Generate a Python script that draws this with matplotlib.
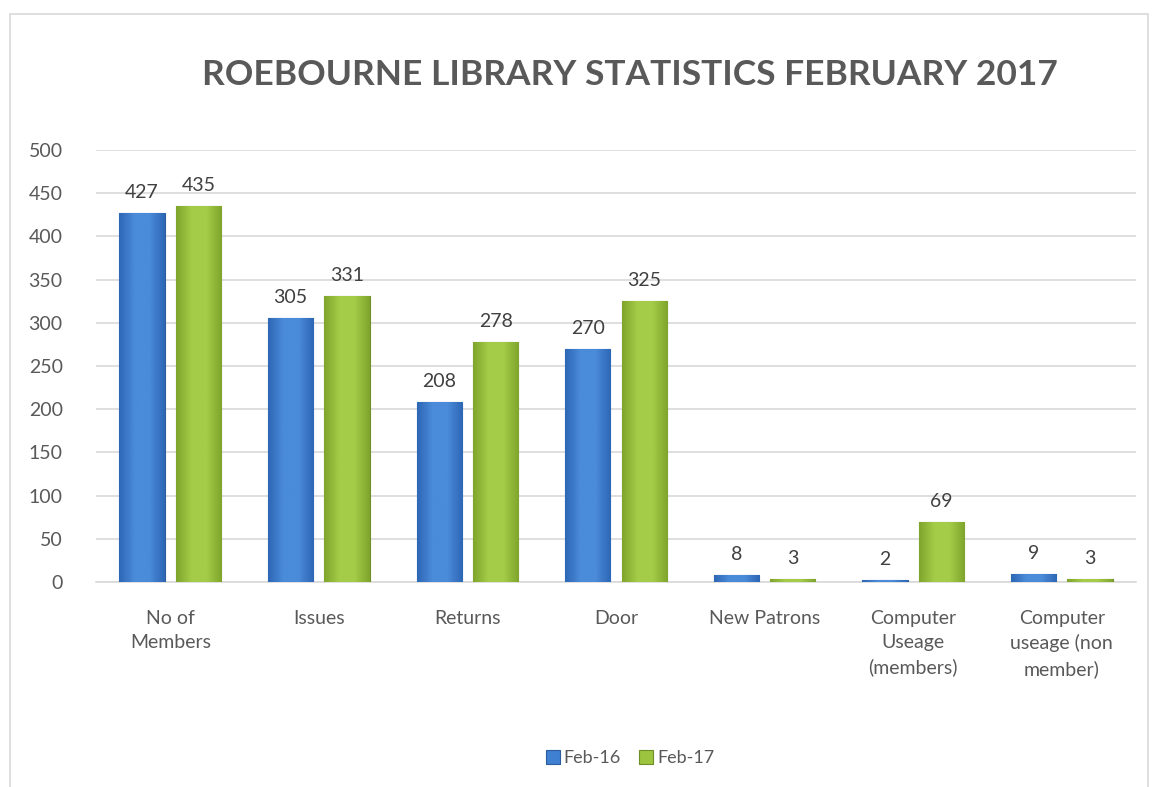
import matplotlib.pyplot as plt
import numpy as np
from matplotlib.colors import LinearSegmentedColormap
from matplotlib.patches import Rectangle

plt.rcParams["font.family"] = ["Lato", "DejaVu Sans"]

categories = [
    "No of\nMembers",
    "Issues",
    "Returns",
    "Door",
    "New Patrons",
    "Computer\nUseage\n(members)",
    "Computer\nuseage (non\nmember)",
]
feb16 = [427, 305, 208, 270, 8, 2, 9]
feb17 = [435, 331, 278, 325, 3, 69, 3]
series_names = ["Feb-16", "Feb-17"]

blue = "#3F80D2"
blue_edge = "#2A5C9E"
green = "#9CC43E"
green_edge = "#6E8F27"
text_grey = "#595959"

blue_cmap = LinearSegmentedColormap.from_list("b", ["#2E67B5", "#4A8BDA", "#4A8BDA", "#2E67B5"])
green_cmap = LinearSegmentedColormap.from_list("g", ["#7FA52C", "#A5CC48", "#A5CC48", "#7FA52C"])

fig = plt.figure(figsize=(11.6, 7.87), dpi=100)
fig.patches.append(
    Rectangle((10 / 1160, -0.05), 1138 / 1160, 1.05 - 14 / 787, transform=fig.transFigure,
              fill=False, edgecolor="#D9D9D9", linewidth=1.2)
)

ax = fig.add_axes([96 / 1160, 1 - 582 / 787, 1040 / 1160, 432 / 787])

x = np.arange(len(categories))
width = 0.305
offset = 0.19
b1 = ax.bar(x - offset, feb16, width, color=blue, edgecolor=blue_edge, linewidth=0.8,
            label=series_names[0], zorder=3)
b2 = ax.bar(x + offset, feb17, width, color=green, edgecolor=green_edge, linewidth=0.8,
            label=series_names[1], zorder=3)

# soft horizontal shading inside each bar
grad = np.linspace(0, 1, 64).reshape(1, -1)
for bars, cmap in ((b1, blue_cmap), (b2, green_cmap)):
    for bar in bars:
        x0, w, h = bar.get_x(), bar.get_width(), bar.get_height()
        im = ax.imshow(grad, cmap=cmap, aspect="auto", extent=(x0, x0 + w, 0, h),
                       zorder=3.5, interpolation="bilinear")
        im.set_clip_path(bar)

for bars, vals in ((b1, feb16), (b2, feb17)):
    for bar, v in zip(bars, vals):
        ax.text(bar.get_x() + bar.get_width() / 2, v + 14, str(v), ha="center",
                va="bottom", fontsize=14, color="#404040")

ax.set_xlim(-0.5, len(categories) - 0.5)
ax.set_ylim(0, 500)
ax.set_yticks(range(0, 501, 50))
ax.tick_params(axis="y", length=0, labelsize=14, labelcolor=text_grey, pad=24)
ax.set_xticks(x)
ax.set_xticklabels(categories, fontsize=14, color=text_grey, linespacing=1.5)
ax.tick_params(axis="x", length=0, pad=20)
ax.grid(axis="y", color="#D9D9D9", linewidth=1.2, zorder=0)
for side in ("top", "right", "left"):
    ax.spines[side].set_visible(False)
ax.spines["bottom"].set_color("#D9D9D9")
ax.spines["bottom"].set_linewidth(1.2)

fig.text(630 / 1160, 1 - 75 / 787, "ROEBOURNE LIBRARY STATISTICS FEBRUARY 2017",
         ha="center", va="center", fontsize=25.5, fontweight="bold", color=text_grey)

fig.legend(handles=[b1, b2], labels=series_names, loc="center",
           bbox_to_anchor=(630 / 1160, 1 - 758 / 787), ncol=2, frameon=False,
           fontsize=13, handlelength=0.8, handleheight=0.8, handletextpad=0.2,
           columnspacing=1.0, labelcolor=text_grey)

fig.savefig("out.png", dpi=100, facecolor="white")
